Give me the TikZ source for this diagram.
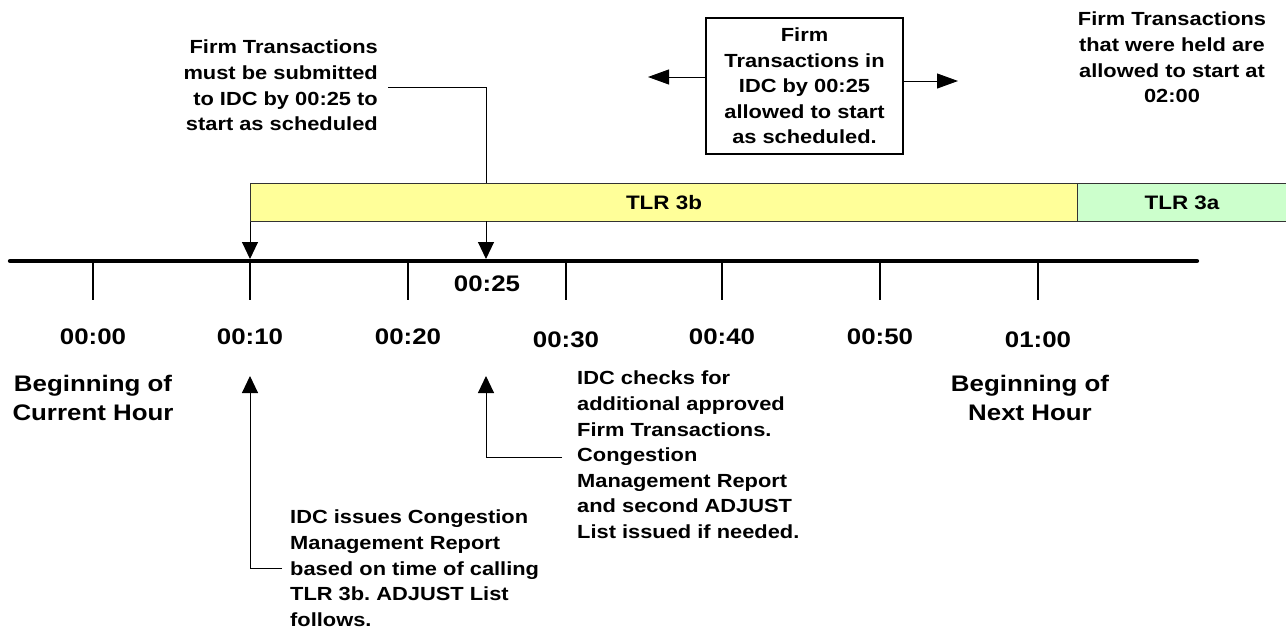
\documentclass[tikz,border=0pt]{standalone}
\usepackage{fontspec}
\setmainfont{Liberation Sans}[FakeStretch=1.15]
\usetikzlibrary{arrows.meta}
\definecolor{barY}{HTML}{FFFF99}
\definecolor{barG}{HTML}{CCFFCC}
\definecolor{barLine}{HTML}{333333}
\tikzset{
  txt/.style={font=\fontsize{19}{25.6}\selectfont\bfseries, inner sep=0pt},
  big/.style={font=\fontsize{22.5}{29}\selectfont\bfseries, inner sep=0pt},
  timelbl/.style={font=\fontsize{22.5}{27}\selectfont\bfseries, inner sep=0pt, anchor=base},
  lead/.style={line width=1pt},
  tick/.style={line width=1.2pt},
  tip/.style={line width=1pt, -{Triangle[length=17pt,width=16pt]}},
  sidetip/.style={line width=1pt, -{Triangle[length=21pt,width=15pt]}},
  bar/.style={draw=barLine, line width=1pt, inner sep=0pt, minimum height=38pt, anchor=north west,
              font=\fontsize{19.5}{23}\selectfont\bfseries},
}
\begin{document}
\frenchspacing
\begin{tikzpicture}[x=1pt,y=-1pt]
\useasboundingbox (0,0) rectangle (1286,629);
\clip (0,0) rectangle (1286,629);

% bars
\node[bar, fill=barY, minimum width=827pt] (b3) at (250,183) {TLR 3b};
\node[bar, fill=barG, minimum width=230pt] (a3) at (1077,183) {\hspace*{-21pt}TLR 3a};

% timeline
\coordinate (t0) at (10,261);
\coordinate (t1) at (1197,261);
\draw[line width=4.3pt, line cap=round] (t0) -- (t1);
\foreach \x in {93,250,408,566,722,880,1038}{
  \draw[tick] (\x,262) -- (\x,300);
}

% time labels
\node[timelbl] (l00) at (93,344) {00:00};
\node[timelbl] (l10) at (250,344) {00:10};
\node[timelbl] (l20) at (408,344) {00:20};
\node[timelbl] (l30) at (566,347) {00:30};
\node[timelbl] (l40) at (722,344) {00:40};
\node[timelbl] (l50) at (880,344) {00:50};
\node[timelbl] (l60) at (1038,347) {01:00};
\node[timelbl] (l25) at (487,291) {00:25};

% hour captions
\node[big, align=center, anchor=north] (cur) at (93,375) {Beginning of\\Current Hour};
\node[big, align=center, anchor=north] (nxt) at (1030,375) {Beginning of\\Next Hour};

% arrows from bar down to timeline
\coordinate (d10) at (250,259);
\coordinate (d25) at (486,259);
\coordinate (b25) at (486,221);
\draw[tip] (b3.south west) -- (d10);
\draw[tip] (b25) -- (d25);

% top-left callout
\node[txt, align=right, anchor=north east] (sub) at (378,40)
  {Firm Transactions\\must be submitted\\to IDC by 00:25 to\\start as scheduled};
\coordinate (subA) at (388,87);
\coordinate (subB) at (486,87);
\coordinate (subC) at (486,183);
\draw[lead] (subA) -- (subB) -- (subC);

% box with side arrows
\node[txt, align=center, draw, line width=1.2pt, minimum width=197pt, minimum height=136pt] (box) at (804.5,86)
  {Firm\\Transactions in\\IDC by 00:25\\allowed to start\\as scheduled.};
\coordinate (bl0) at (706,77);
\coordinate (bl1) at (648,77);
\coordinate (br0) at (903,81);
\coordinate (br1) at (958,81);
\draw[sidetip] (bl0) -- (bl1);
\draw[sidetip] (br0) -- (br1);

% top-right text
\node[txt, align=center, anchor=north] (held) at (1172,12)
  {Firm Transactions\\that were held are\\allowed to start at\\02:00};

% bottom callouts
\node[txt, align=left, anchor=north west] (iss) at (290,510)
  {IDC issues Congestion\\Management Report\\based on time of calling\\TLR 3b. ADJUST List\\follows.};
\coordinate (issA) at (282,568);
\coordinate (issB) at (250,568);
\coordinate (issC) at (250,376);
\draw[tip] (issA) -- (issB) -- (issC);

\node[txt, align=left, anchor=north west] (chk) at (577,371)
  {IDC checks for\\additional approved\\Firm Transactions.\\Congestion\\Management Report\\and second ADJUST\\List issued if needed.};
\coordinate (chkA) at (562,457);
\coordinate (chkB) at (486,457);
\coordinate (chkC) at (486,376);
\draw[tip] (chkA) -- (chkB) -- (chkC);
\end{tikzpicture}
\end{document}
